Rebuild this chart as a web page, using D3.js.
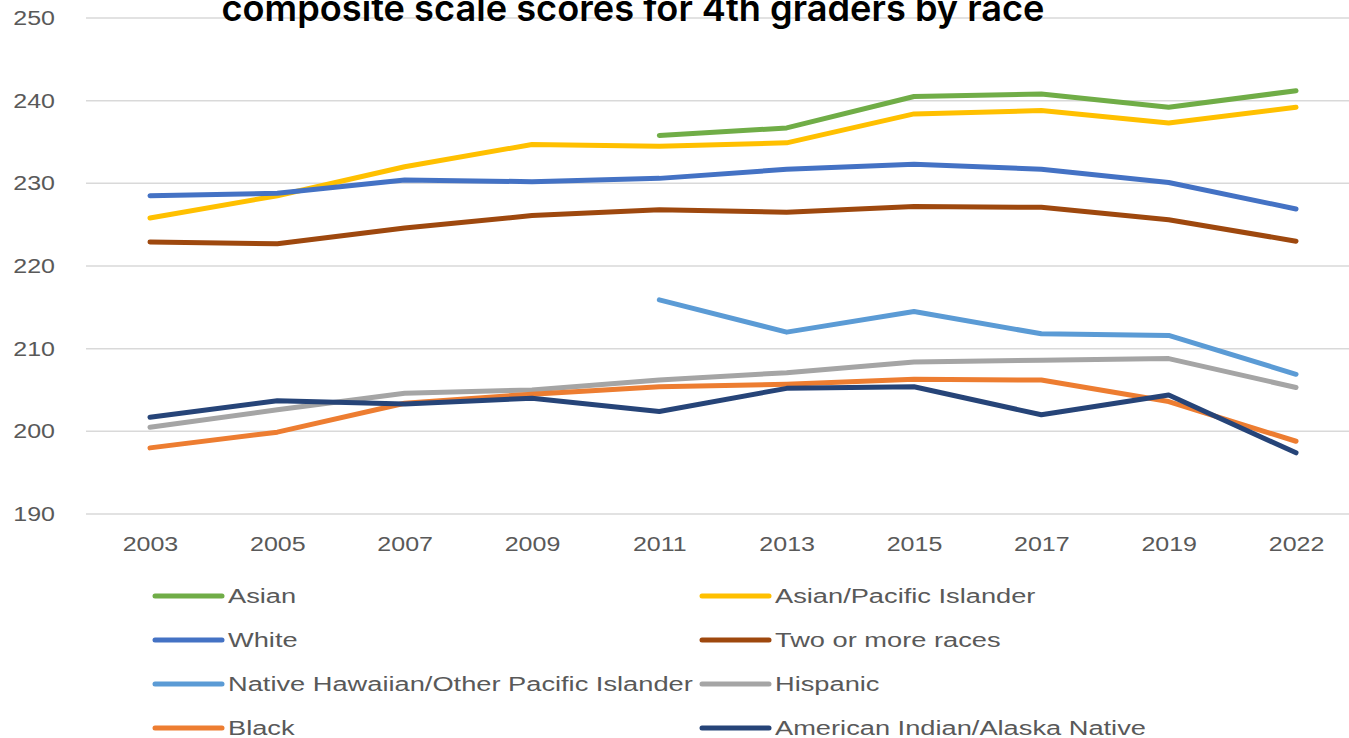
<!DOCTYPE html>
<html>
<head>
<meta charset="utf-8">
<script src="https://cdn.jsdelivr.net/npm/d3@7"></script>
<style>
  html, body { margin: 0; padding: 0; background: #fff; overflow: hidden; }
  svg { display: block; }
</style>
</head>
<body>
<svg id="chart" width="1349" height="738"></svg>
<script>
const title = "composite scale scores for 4th graders by race";
const years = ["2003","2005","2007","2009","2011","2013","2015","2017","2019","2022"];
const yTicks = [190, 200, 210, 220, 230, 240, 250];

const seriesNames = [
  "Asian", "Asian/Pacific Islander", "White", "Two or more races",
  "Native Hawaiian/Other Pacific Islander", "Hispanic", "Black", "American Indian/Alaska Native"
];
const seriesColors = ["#70ad47", "#ffc000", "#4472c4", "#9e480e", "#5b9bd5", "#a5a5a5", "#ed7d31", "#264478"];

const asian      = [null, null, null, null, 235.8, 236.7, 240.5, 240.8, 239.2, 241.2];
const asianPI    = [225.8, 228.5, 232.0, 234.7, 234.5, 234.9, 238.4, 238.8, 237.3, 239.2];
const white      = [228.5, 228.8, 230.4, 230.2, 230.6, 231.7, 232.3, 231.7, 230.1, 226.9];
const twoOrMore  = [222.9, 222.7, 224.6, 226.1, 226.8, 226.5, 227.2, 227.1, 225.6, 223.0];
const nhpi       = [null, null, null, null, 215.9, 212.0, 214.5, 211.8, 211.6, 206.9];
const hispanic   = [200.5, 202.6, 204.6, 205.0, 206.2, 207.1, 208.4, 208.6, 208.8, 205.3];
const black      = [198.0, 199.9, 203.4, 204.5, 205.4, 205.7, 206.3, 206.2, 203.6, 198.8];
const aian       = [201.7, 203.7, 203.3, 204.0, 202.4, 205.2, 205.4, 202.0, 204.4, 197.4];

const seriesValues = [asian, asianPI, white, twoOrMore, nhpi, hispanic, black, aian];

const svg = d3.select("#chart");
const W = 1349, H = 738;

const x = d3.scalePoint().domain(years).range([86.3, 1359.7]).padding(0.5);
const y = d3.scaleLinear().domain([190, 250]).range([514, 18]);

const tickFont = "'Liberation Sans', Arial, sans-serif";
const labelColor = "#595959";

// gridlines
svg.append("g")
  .selectAll("line")
  .data(yTicks)
  .join("line")
  .attr("x1", 86).attr("x2", W)
  .attr("y1", d => y(d)).attr("y2", d => y(d))
  .attr("stroke", "#d9d9d9").attr("stroke-width", 1.5);

// y axis labels
const yAxis = svg.append("g")
  .attr("transform", "translate(55,0)")
  .call(d3.axisLeft(y).tickValues(yTicks).tickSize(0).tickPadding(0).tickFormat(d3.format("d")));
yAxis.select(".domain").remove();
yAxis.selectAll("text")
  .attr("font-family", tickFont).attr("font-size", 20).attr("fill", labelColor)
  .attr("transform", "scale(1.25,1)");

// x axis labels
const xAxis = svg.append("g")
  .attr("transform", "translate(0,537)")
  .call(d3.axisBottom(x).tickSize(0).tickPadding(0));
xAxis.select(".domain").remove();
xAxis.selectAll("text")
  .attr("font-family", tickFont).attr("font-size", 20).attr("fill", labelColor)
  .attr("transform", "scale(1.25,1)");

// lines
const line = d3.line()
  .defined(d => d.v != null)
  .x(d => x(d.year))
  .y(d => y(d.v));

svg.append("g")
  .selectAll("path")
  .data(seriesNames.map((name, i) => ({
    name, color: seriesColors[i],
    pts: years.map((yr, j) => ({ year: yr, v: seriesValues[i][j] }))
  })))
  .join("path")
  .attr("d", d => line(d.pts))
  .attr("fill", "none")
  .attr("stroke", d => d.color)
  .attr("stroke-width", 5)
  .attr("stroke-linejoin", "round")
  .attr("stroke-linecap", "round");

// legend
const legendCols = [155, 702];
const legendRows = [596, 640, 684, 728];
const legend = svg.append("g");
const items = legend.selectAll("g")
  .data(seriesNames.map((name, i) => ({ name, color: seriesColors[i], col: i % 2, row: Math.floor(i / 2) })))
  .join("g")
  .attr("transform", d => `translate(${legendCols[d.col]},${legendRows[d.row]})`);
items.append("line")
  .attr("x1", 0).attr("x2", 67).attr("y1", 0).attr("y2", 0)
  .attr("stroke", d => d.color).attr("stroke-width", 5).attr("stroke-linecap", "round");
const ltext = items.append("text")
  .attr("x", 0).attr("y", 0).attr("dy", "0.35em")
  .attr("font-family", tickFont).attr("font-size", 20).attr("fill", labelColor)
  .text(d => d.name);
const refW = ltext.filter(d => d.name === seriesNames[4]).node().getComputedTextLength();
const k = 465 / refW;
ltext.attr("transform", `translate(73,0) scale(${k},1)`);

// title
svg.append("text")
  .attr("x", 633).attr("y", 21)
  .attr("text-anchor", "middle")
  .attr("font-family", "Inter, 'Open Sans', sans-serif")
  .attr("font-weight", 600)
  .attr("font-size", 36)
  .attr("fill", "#000")
  .attr("textLength", 823)
  .attr("lengthAdjust", "spacingAndGlyphs")
  .text(title);
</script>
</body>
</html>
